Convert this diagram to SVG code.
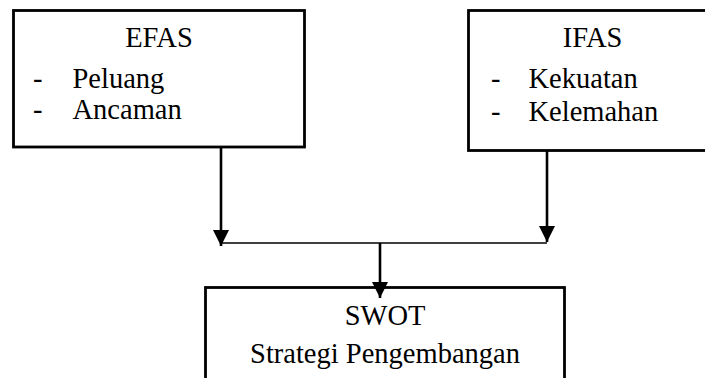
<svg xmlns="http://www.w3.org/2000/svg" width="705" height="378" viewBox="0 0 705 378">
<style>
.box{fill:#fff;stroke:#000;stroke-width:2.8}
.t{font-family:'Liberation Serif','Times New Roman',Tinos,'DejaVu Serif',serif;font-size:28.5px;fill:#000}
.c{text-anchor:middle}
.v{stroke:#000;stroke-width:2.6;fill:none}
.h{stroke:#000;stroke-width:1.6;fill:none}
</style>
<defs>
<marker id="ah" markerUnits="userSpaceOnUse" markerWidth="17" markerHeight="16" refX="16" refY="8" orient="auto" viewBox="0 0 17 16">
<path d="M0,0 L16,8 L0,16 Z" fill="#000"/>
</marker>
</defs>
<rect width="705" height="378" fill="#fff"/>
<g id="efas">
<rect class="box" x="13.5" y="10.5" width="291" height="136.5"/>
<text class="t c" x="159" y="47">EFAS</text>
<text class="t" x="33" y="87.5">-</text>
<text class="t" x="72.5" y="87.5">Peluang</text>
<text class="t" x="33" y="119">-</text>
<text class="t" x="72.5" y="119">Ancaman</text>
</g>
<g id="ifas">
<rect class="box" x="468.5" y="10.5" width="250" height="140"/>
<text class="t c" x="592.5" y="47">IFAS</text>
<text class="t" x="491" y="87.5">-</text>
<text class="t" x="528.5" y="87.5">Kekuatan</text>
<text class="t" x="491" y="121">-</text>
<text class="t" x="528.5" y="121">Kelemahan</text>
</g>
<g id="swot">
<rect class="box" x="205.5" y="287.5" width="359" height="110"/>
<text class="t c" x="385" y="325">SWOT</text>
<text class="t c" x="385" y="363">Strategi Pengembangan</text>
</g>
<g id="connectors">
<line class="v" x1="221" y1="147" x2="221" y2="246" marker-end="url(#ah)"/>
<line class="v" x1="547" y1="150" x2="547" y2="242" marker-end="url(#ah)"/>
<line class="h" x1="221" y1="243" x2="547" y2="243"/>
<line class="v" x1="380" y1="243" x2="380" y2="298" marker-end="url(#ah)"/>
</g>
</svg>
